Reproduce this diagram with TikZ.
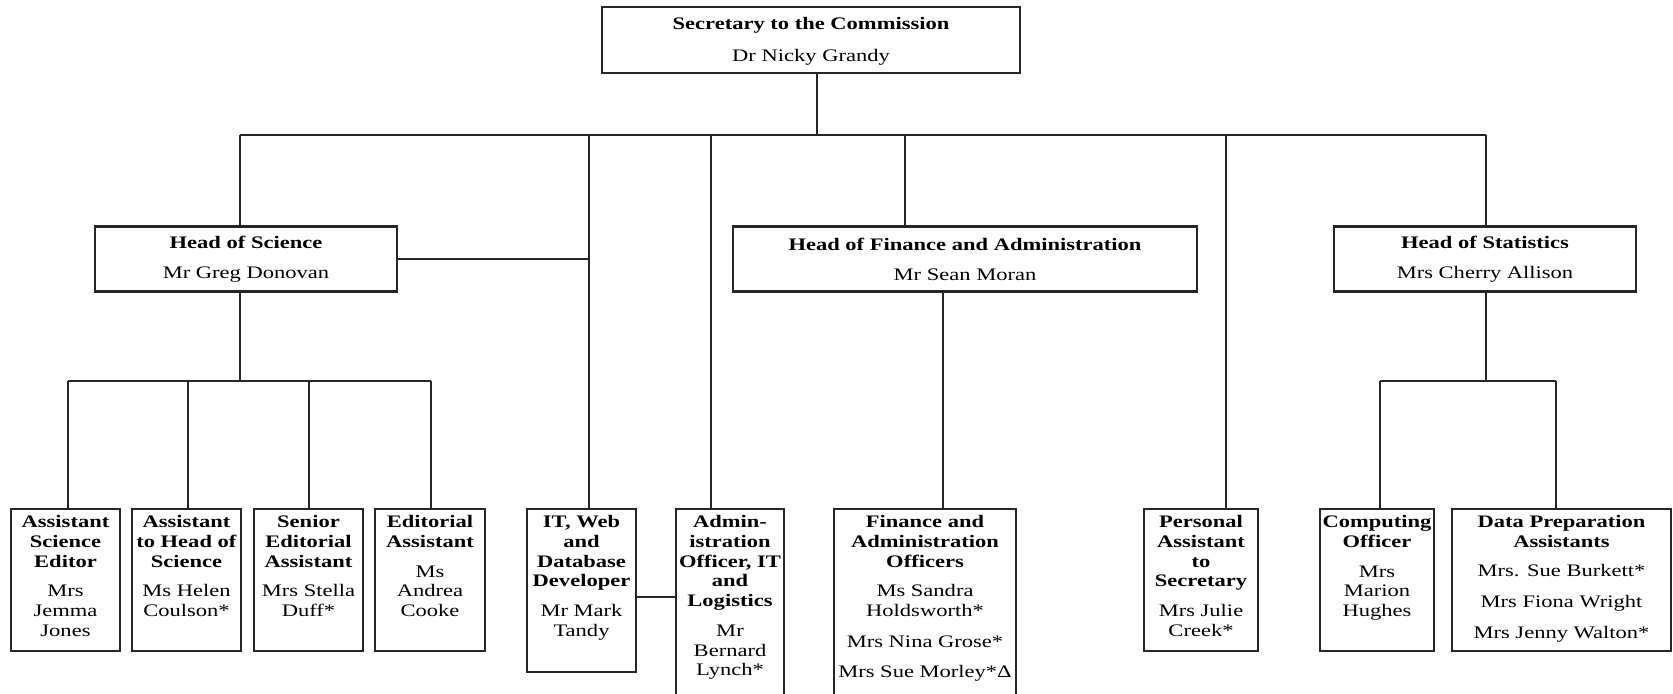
\documentclass[tikz,border=0pt]{standalone}
\usepackage{fontspec}
\setmainfont{Liberation Serif}[FakeStretch=1.28]
\newcommand\bt[1]{\textbf{#1}}
\begin{document}
\begin{tikzpicture}[x=0.5pt,y=-0.5pt,
  box/.style={draw=black!85,line width=1.15pt,inner sep=0pt,outer sep=0pt},
  lbl/.style={inner sep=0pt,align=center,font=\fontsize{8.8pt}{9.85pt}\selectfont},
  conn/.style={draw=black!85,line width=0.9pt}]
\clip (0,0) rectangle (1673,694);
\fill[white] (0,0) rectangle (1673,694);
% boxes
\node[box,minimum width=209pt,minimum height=33pt] (top) at (811,40) {};
\node[box,minimum width=151pt,minimum height=32.5pt] (hs) at (246,259) {};
\node[box,minimum width=232pt,minimum height=32.5pt] (hf) at (965,259) {};
\node[box,minimum width=151pt,minimum height=32.5pt] (hst) at (1485,259) {};
\node[box,minimum width=54.5pt,minimum height=71pt] (b1) at (65.5,580) {};
\node[box,minimum width=54.5pt,minimum height=71pt] (b2) at (186.5,580) {};
\node[box,minimum width=54.5pt,minimum height=71pt] (b3) at (308.5,580) {};
\node[box,minimum width=55pt,minimum height=71pt] (b4) at (430,580) {};
\node[box,minimum width=54.5pt,minimum height=81.5pt] (it) at (581.5,590.5) {};
\node[box,minimum width=54pt,minimum height=115.5pt] (ad) at (730,624.5) {};
\node[box,minimum width=91pt,minimum height=115.5pt] (fo) at (925,624.5) {};
\node[box,minimum width=57pt,minimum height=71pt] (pa) at (1201,580) {};
\node[box,minimum width=57pt,minimum height=71pt] (co) at (1377,580) {};
\node[box,minimum width=109.5pt,minimum height=71pt] (dp) at (1561.5,580) {};
% labels
\node[lbl] (topt) at ([yshift=-0.5pt]top.center) {\bt{Secretary to the Commission}\\[6.2pt]Dr Nicky Grandy};
\node[lbl] (hst1) at (hs.center) {\bt{Head of Science}\\[5.2pt]Mr Greg Donovan};
\node[lbl] (hft) at (hf.center) {\bt{Head of Finance and Administration}\\[5.2pt]Mr Sean Moran};
\node[lbl] (hstt) at (hst.center) {\bt{Head of Statistics}\\[5.2pt]Mrs Cherry Allison};
\node[lbl,anchor=north] (b1t) at ([yshift=-3pt]b1.north) {\bt{Assistant}\\\bt{Science}\\\bt{Editor}\\[5.1pt]Mrs\\Jemma\\Jones};
\node[lbl,anchor=north] (b2t) at ([yshift=-3pt]b2.north) {\bt{Assistant}\\\bt{to Head of}\\\bt{Science}\\[5.1pt]Ms Helen\\Coulson*};
\node[lbl,anchor=north] (b3t) at ([yshift=-3pt]b3.north) {\bt{Senior}\\\bt{Editorial}\\\bt{Assistant}\\[5.1pt]Mrs Stella\\Duff*};
\node[lbl,anchor=north] (b4t) at ([yshift=-3pt]b4.north) {\bt{Editorial}\\\bt{Assistant}\\[5.1pt]Ms\\Andrea\\Cooke};
\node[lbl,anchor=north] (itt) at ([yshift=-3pt]it.north) {\bt{IT, Web}\\\bt{and}\\\bt{Database}\\\bt{Developer}\\[5.1pt]Mr Mark\\Tandy};
\node[lbl,anchor=north] (adt) at ([yshift=-3pt]ad.north|-b1.north) {\bt{Admin-}\\\bt{istration}\\\bt{Officer, IT}\\\bt{and}\\\bt{Logistics}\\[5.1pt]Mr\\Bernard\\Lynch*};
\node[lbl,anchor=north] (fot) at ([yshift=-3pt]fo.north|-b1.north) {\bt{Finance and}\\\bt{Administration}\\\bt{Officers}\\[5.1pt]Ms Sandra\\Holdsworth*\\[5.6pt]Mrs Nina Grose*\\[5.1pt]Mrs Sue Morley*Δ};
\node[lbl,anchor=north] (pat) at ([yshift=-3pt]pa.north) {\bt{Personal}\\\bt{Assistant}\\\bt{to}\\\bt{Secretary}\\[5.1pt]Mrs Julie\\Creek*};
\node[lbl,anchor=north] (cot) at ([yshift=-3pt]co.north) {\bt{Computing}\\\bt{Officer}\\[5.1pt]Mrs\\Marion\\Hughes};
\node[lbl,anchor=north] (dpt) at ([yshift=-3pt]dp.north) {\bt{Data Preparation}\\\bt{Assistants}\\[4.5pt]Mrs. Sue Burkett*\\[5.8pt]Mrs Fiona Wright\\[5.5pt]Mrs Jenny Walton*};
% junction coordinates
\coordinate (j0) at (817,135);
\coordinate (jS) at (240,135);
\coordinate (jIT) at (589,135);
\coordinate (jAd) at (711,135);
\coordinate (jF) at (905,135);
\coordinate (jP) at (1226,135);
\coordinate (jSt) at (1486,135);
\coordinate (lk) at (656,597);
\coordinate (s1) at (68,381);
\coordinate (s2) at (188,381);
\coordinate (s3) at (309,381);
\coordinate (s4) at (431,381);
\coordinate (fx) at (943,381);
\coordinate (ts) at (1486,381);
\coordinate (t1) at (1380,381);
\coordinate (t2) at (1556,381);
% connectors
\draw[conn] (j0 |- top.south) -- (j0);
\draw[conn] (jS) -- (jSt);
\draw[conn] (jS) -- (jS |- hs.north);
\draw[conn] (jIT) -- (jIT |- it.north);
\draw[conn] (jAd) -- (jAd |- ad.north);
\draw[conn] (jF) -- (jF |- hf.north);
\draw[conn] (jP) -- (jP |- pa.north);
\draw[conn] (jSt) -- (jSt |- hst.north);
\draw[conn] (hs.east) -- (hs.east -| jIT);
\draw[conn] (it.east |- lk) -- (ad.west |- lk);
\draw[conn] (jS |- hs.south) -- (jS |- s1);
\draw[conn] (s1) -- (s4);
\draw[conn] (s1) -- (s1 |- b1.north);
\draw[conn] (s2) -- (s2 |- b2.north);
\draw[conn] (s3) -- (s3 |- b3.north);
\draw[conn] (s4) -- (s4 |- b4.north);
\draw[conn] (fx |- hf.south) -- (fx |- fo.north);
\draw[conn] (ts |- hst.south) -- (ts);
\draw[conn] (t1) -- (t2);
\draw[conn] (t1) -- (t1 |- co.north);
\draw[conn] (t2) -- (t2 |- dp.north);
\end{tikzpicture}
\end{document}
